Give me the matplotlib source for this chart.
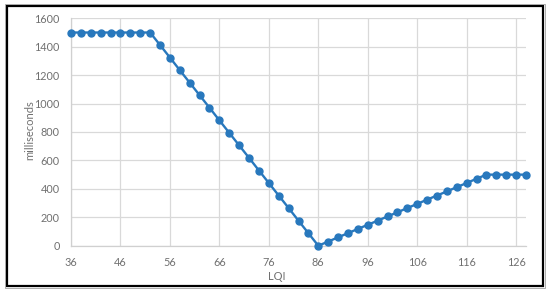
import matplotlib
matplotlib.use("Agg")
import matplotlib.pyplot as plt
from matplotlib.patches import Rectangle

# Data
lqi = [36, 38, 40, 42, 44, 46, 48, 50, 52, 54, 56, 58, 60, 62, 64, 66, 68, 70,
       72, 74, 76, 78, 80, 82, 84, 86, 88, 90, 92, 94, 96, 98, 100, 102, 104,
       106, 108, 110, 112, 114, 116, 118, 120, 122, 124, 126, 128]
ms = [1500, 1500, 1500, 1500, 1500, 1500, 1500, 1500, 1500,
      1412, 1324, 1235, 1147, 1059, 971, 882, 794, 706, 618, 529, 441, 353,
      265, 176, 88, 0,
      29, 59, 88, 118, 147, 176, 206, 235, 265, 294, 324, 353, 382, 412, 441,
      471, 500, 500, 500, 500, 500]
xticks = [36, 46, 56, 66, 76, 86, 96, 106, 116, 126]
yticks = [0, 200, 400, 600, 800, 1000, 1200, 1400, 1600]

plt.rcParams['font.family'] = ['Lato', 'DejaVu Sans']

W, H = 550, 294
fig = plt.figure(figsize=(W / 100, H / 100), dpi=100)
ax = fig.add_axes([71 / W, (H - 245.7) / H, (526 - 71) / W, (245.7 - 18.3) / H])

blue = '#2878BD'
ax.plot(lqi, ms, color=blue, lw=1.7, marker='o', ms=5, zorder=3, clip_on=False)

ax.set_xlim(36, 128)
ax.set_ylim(0, 1600)
ax.set_xticks(xticks)
ax.set_yticks(yticks)
ax.grid(True, color='#d9d9d9', lw=0.9)
ax.set_axisbelow(True)
for s in ['top', 'right']:
    ax.spines[s].set_visible(False)
for s in ['left', 'bottom']:
    ax.spines[s].set_color('#d0d0d0')
    ax.spines[s].set_linewidth(0.9)
ax.tick_params(length=0, labelsize=7.8, colors='#707070')
ax.tick_params(axis='x', pad=8)
ax.tick_params(axis='y', pad=8)

fig.text(277 / W, 1 - 277 / H, 'LQI', ha='center', va='center', fontsize=8, color='#707070')
fig.text(30 / W, 1 - 130 / H, 'milliseconds', ha='center', va='center', rotation=90,
         fontsize=8, color='#707070')

# frame
fig.patches.append(Rectangle((6.5 / W, 1 - 286 / H), (543 - 6.5) / W, (286 - 5.5) / H,
                             transform=fig.transFigure, fill=False, ec='black', lw=1.6))
fig.patches.append(Rectangle((5 / W, 1 - 288 / H), (545 - 5) / W, (288 - 4) / H,
                             transform=fig.transFigure, fill=False, ec='#a0a0a0', lw=0.6))

fig.savefig('out.png', dpi=100)
